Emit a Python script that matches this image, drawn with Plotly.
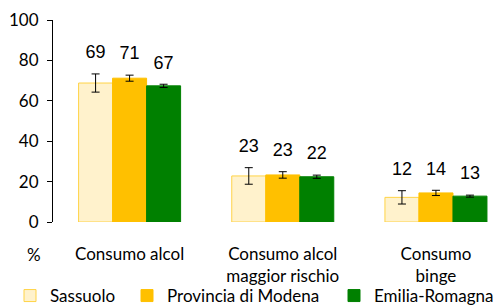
import plotly.graph_objects as go

categories = ["Consumo alcol", "Consumo alcol<br>maggior rischio", "Consumo<br>binge"]
series_names = ["Sassuolo", "Provincia di Modena", "Emilia-Romagna"]
sassuolo = [68.8, 22.8, 12.2]
provincia = [71.2, 23.3, 14.4]
emilia = [67.4, 22.4, 12.8]
err_sassuolo = [4.5, 4.1, 3.3]
err_provincia = [1.5, 1.6, 1.3]
err_emilia = [0.8, 0.8, 0.5]
y_ticks = [0, 20, 40, 60, 80, 100]

values = [sassuolo, provincia, emilia]
errors = [err_sassuolo, err_provincia, err_emilia]
fills = ["#FFF2CC", "#FFC000", "#008000"]
lines = ["#FFD347", "#FFC000", "#008000"]
offsets = [-0.222, 0.0, 0.222]
bar_w = 0.222
legend_ids = ["legend", "legend2", "legend3"]
legend_x = [10, 127, 334]

LABEL_FONT = "Lato, sans-serif"
NUM_FONT = "Liberation Sans, Arial, sans-serif"
W, H = 496, 307

fig = go.Figure()
xs_idx = list(range(len(categories)))
for name, vals, errs, fc, lc, off, lg in zip(series_names, values, errors, fills, lines, offsets, legend_ids):
    xs = [i + off for i in xs_idx]
    fig.add_trace(go.Bar(
        x=xs, y=vals, width=bar_w, name=name, legend=lg,
        marker=dict(color=fc, line=dict(color=lc, width=1)),
        error_y=dict(type="data", array=errs, visible=True, color="#000000",
                     thickness=1, width=4),
    ))
for vals, errs, off in zip(values, errors, offsets):
    xs = [i + off for i in xs_idx]
    fig.add_trace(go.Scatter(
        x=xs, y=[v + e + 10 for v, e in zip(vals, errs)],
        text=[f"{round(v):d}" for v in vals], mode="text",
        textposition="middle center", showlegend=False, hoverinfo="skip",
        textfont=dict(family=NUM_FONT, size=18, color="#000000"),
    ))

fig.add_annotation(text="%", x=-0.043, y=-0.163, xref="paper", yref="paper",
                   showarrow=False, xanchor="center", yanchor="middle",
                   font=dict(family=LABEL_FONT, size=17, color="#000000"))

legend_common = dict(orientation="h", xref="container", yref="container",
                     xanchor="left", yanchor="middle", y=(H - 296) / H,
                     font=dict(family=LABEL_FONT, size=17, color="#000000"),
                     itemclick=False, bgcolor="rgba(0,0,0,0)")
legend_layouts = {lg: dict(legend_common, x=lx / W) for lg, lx in zip(legend_ids, legend_x)}

fig.update_layout(
    width=W, height=H,
    margin=dict(l=53, r=0, t=20, b=85, autoexpand=False),
    paper_bgcolor="white", plot_bgcolor="white",
    barmode="overlay",
    showlegend=True,
    **legend_layouts,
    xaxis=dict(range=[-0.5, 2.392], tickmode="array", tickvals=xs_idx, ticktext=categories,
               showgrid=False, zeroline=False, showline=False, ticks="",
               ticklabelstandoff=20, automargin=False,
               tickfont=dict(family=LABEL_FONT, size=17, color="#000000")),
    yaxis=dict(range=[0, 100], tickmode="array", tickvals=y_ticks, showgrid=False,
               zeroline=False, showline=True, linecolor="#000000", linewidth=1,
               ticks="outside", ticklen=5, tickcolor="#000000",
               ticklabelstandoff=5, automargin=False,
               tickfont=dict(family=LABEL_FONT, size=17, color="#000000")),
)

fig.write_html("out.html", config={"displayModeBar": False},
               post_script="document.body.style.margin='0';document.body.style.overflow='hidden';")
